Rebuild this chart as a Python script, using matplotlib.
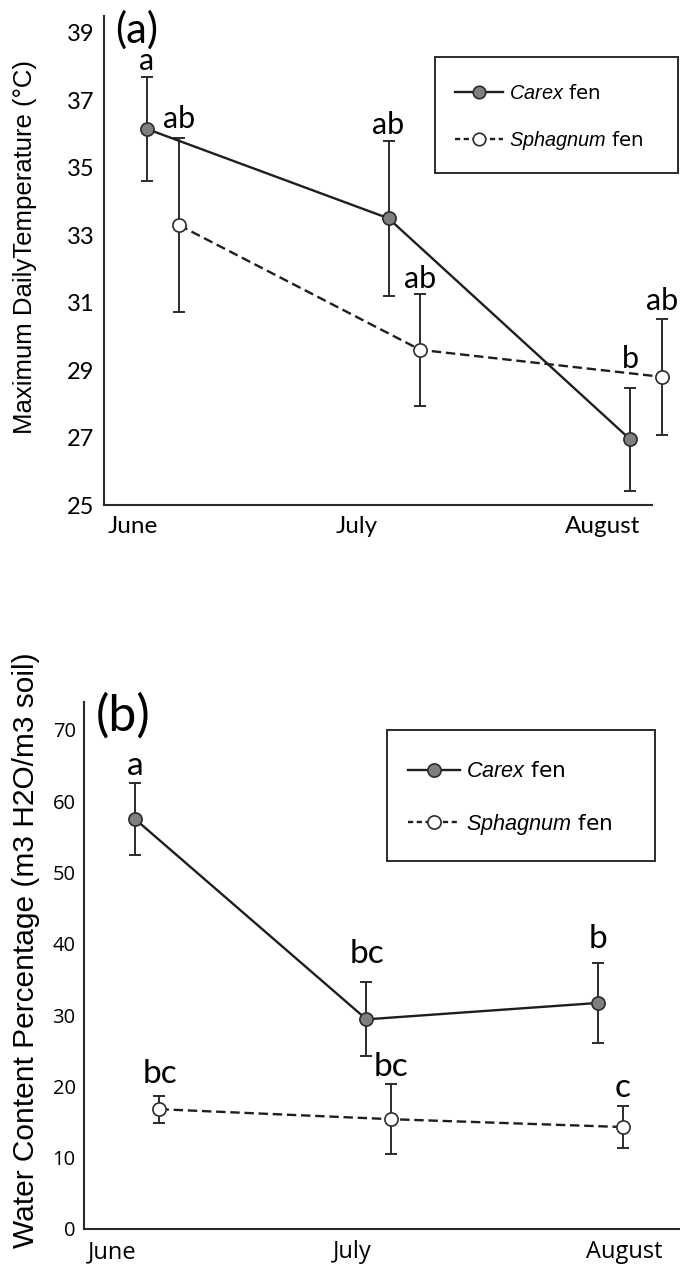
import numpy as np
import matplotlib
matplotlib.use('Agg')
import matplotlib.pyplot as plt
from matplotlib.lines import Line2D
from matplotlib.patches import Rectangle

plt.rcParams['mathtext.fontset'] = 'custom'
plt.rcParams['mathtext.rm'] = 'Liberation Sans'
plt.rcParams['mathtext.it'] = 'Liberation Sans:italic'

# data
months = ['June', 'July', 'August']
legend_labels = [r'$\it{Carex}$ fen', r'$\it{Sphagnum}$ fen']

temp_carex = [36.15, 33.5, 26.95]
temp_carex_err = [1.53, 2.3, 1.53]
temp_sph = [33.3, 29.6, 28.8]
temp_sph_err = [2.58, 1.66, 1.73]
temp_carex_letters = ['a', 'ab', 'b']
temp_sph_letters = ['ab', 'ab', 'ab']
temp_ticks = [25, 27, 29, 31, 33, 35, 37, 39]

water_carex = [57.5, 29.4, 31.7]
water_carex_err = [5.0, 5.2, 5.6]
water_sph = [16.8, 15.4, 14.3]
water_sph_err = [1.9, 4.95, 3.0]
water_carex_letters = ['a', 'bc', 'b']
water_sph_letters = ['bc', 'bc', 'c']
water_ticks = [0, 10, 20, 30, 40, 50, 60, 70]

W, H = 680, 1270
DARK = '#2b2b2b'


def fx(px):
    return px / W


def fy(py):
    return 1 - py / H


def draw_panel(ax, carex, cerr, sph, serr, cl, sl, shift, letter_size, cpads, spads):
    x = np.arange(len(carex))
    xs = x + shift
    ax.errorbar(x, carex, yerr=cerr, fmt='none', ecolor=DARK, elinewidth=1.4,
                capsize=4, capthick=1.4, clip_on=False, zorder=2)
    ax.errorbar(xs, sph, yerr=serr, fmt='none', ecolor=DARK, elinewidth=1.4,
                capsize=4, capthick=1.4, clip_on=False, zorder=2)
    ax.plot(x, carex, '-o', color='#1e1e1e', lw=1.7, ms=9.5, mfc='#7f7f7f',
            mec=DARK, mew=1.2, clip_on=False, zorder=3)
    ax.plot(xs, sph, '--o', dashes=(4, 2), color='#1e1e1e', lw=1.7, ms=9.5,
            mfc='white', mec=DARK, mew=1.2, clip_on=False, zorder=3)
    for xi, yi, ei, t, p in zip(x, carex, cerr, cl, cpads):
        ax.annotate(t, (xi, yi + ei), xytext=(0, p), textcoords='offset points',
                    ha='center', va='baseline', fontsize=letter_size, family='Lato',
                    annotation_clip=False)
    for xi, yi, ei, t, p in zip(xs, sph, serr, sl, spads):
        ax.annotate(t, (xi, yi + ei), xytext=(0, p), textcoords='offset points',
                    ha='center', va='baseline', fontsize=letter_size, family='Lato',
                    annotation_clip=False)
    for s in ['top', 'right']:
        ax.spines[s].set_visible(False)
    for s in ['left', 'bottom']:
        ax.spines[s].set_color(DARK)
        ax.spines[s].set_linewidth(1.5)


def legend_handles(ms):
    h1 = Line2D([], [], color='#1e1e1e', lw=1.7, marker='o', ms=ms,
                mfc='#7f7f7f', mec=DARK, mew=1.2)
    h2 = Line2D([], [], color='#1e1e1e', lw=1.7, ls='--', dashes=(2.2, 1.5),
                marker='o', ms=ms, mfc='white', mec=DARK, mew=1.2)
    return [h1, h2]


fig = plt.figure(figsize=(W / 100, H / 100), dpi=100)

# ---- panel (a)
ax1 = fig.add_axes([fx(104), fy(505), fx(652 - 104), (505 - 16) / H])
draw_panel(ax1, temp_carex, temp_carex_err, temp_sph, temp_sph_err,
           temp_carex_letters, temp_sph_letters, 0.132, 22,
           [5, 5, 14], [7, 4.5, 6])
ax1.set_xlim(-0.178, 2.091)
ax1.set_ylim(25, 39.5)
ax1.set_yticks(temp_ticks)
ax1.set_yticklabels([str(t) for t in temp_ticks], family='Lato', fontsize=17)
ax1.set_xticks([-0.058, 0.870, 1.888])
ax1.set_xticklabels(months, family='Lato', fontsize=17.5)
ax1.tick_params(axis='y', length=0, pad=7)
ax1.tick_params(axis='x', length=0, pad=8)
fig.text(fx(25), fy(247), 'Maximum DailyTemperature (°C)', rotation=90,
         ha='center', va='center', fontsize=18.5, family='Liberation Sans')
fig.text(fx(115), fy(30), '(a)', ha='left', va='center', fontsize=30, family='Lato')
fig.legend(legend_handles(9), legend_labels, loc='center left',
           bbox_to_anchor=(fx(455), fy(118)), frameon=False, fontsize=14.3,
           handlelength=2.4, handletextpad=0.3, labelspacing=1.35,
           borderpad=0, borderaxespad=0, numpoints=1)
fig.add_artist(Rectangle((fx(435), fy(173)), fx(678 - 435), (173 - 57) / H,
                         transform=fig.transFigure, fill=False, ec=DARK, lw=1.4))

# ---- panel (b)
ax2 = fig.add_axes([fx(84), fy(1229), fx(680 - 84), (1229 - 702) / H])
draw_panel(ax2, water_carex, water_carex_err, water_sph, water_sph_err,
           water_carex_letters, water_sph_letters, 0.106, 24,
           [6, 14, 11], [9, 6, 6])
ax2.set_xlim(-0.22, 2.354)
ax2.set_ylim(0, 73.9)
ax2.set_yticks(water_ticks)
ax2.set_yticklabels([str(t) for t in water_ticks], family='Open Sans', fontsize=14.5)
ax2.set_xticks([-0.099, 0.937, 2.112])
ax2.set_xticklabels(months, family='Open Sans', fontsize=17)
ax2.tick_params(axis='y', length=0, pad=6)
ax2.tick_params(axis='x', length=0, pad=8)
fig.text(fx(26), fy(950), 'Water Content Percentage (m3 H2O/m3 soil)', rotation=90,
         ha='center', va='center', fontsize=21.5, family='Liberation Sans')
fig.text(fx(96), fy(716), '(b)', ha='left', va='center', fontsize=36, family='Lato')
fig.legend(legend_handles(9.5), legend_labels, loc='center left',
           bbox_to_anchor=(fx(408), fy(799)), frameon=False, fontsize=15.6,
           handlelength=2.4, handletextpad=0.28, labelspacing=1.4,
           borderpad=0, borderaxespad=0, numpoints=1)
fig.add_artist(Rectangle((fx(387), fy(861)), fx(655 - 387), (861 - 730) / H,
                         transform=fig.transFigure, fill=False, ec=DARK, lw=1.4))

fig.savefig('out.png', dpi=100)
